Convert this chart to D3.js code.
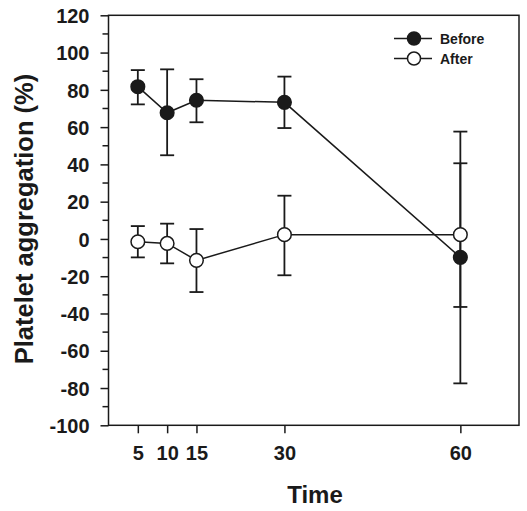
<!DOCTYPE html>
<html><head><meta charset="utf-8">
<script src="https://cdn.jsdelivr.net/npm/d3@7"></script>
<style>body{margin:0;background:#fff}svg{display:block}text{font-family:"Liberation Sans",Arial,sans-serif;font-weight:bold;fill:#1a1a1a}</style>
</head><body>
<script>
const times = [5, 10, 15, 30, 60];
const beforeMean = [81.7, 67.7, 74.4, 73.3, -9.9];
const beforeHi = [90.6, 91.0, 85.7, 87.1, 57.6];
const beforeLo = [72.2, 44.9, 62.6, 59.5, -77.5];
const afterMean = [-1.5, -2.4, -11.5, 2.3, 2.3];
const afterHi = [6.9, 8.2, 5.3, 23.2, 40.6];
const afterLo = [-9.9, -13.1, -28.5, -19.5, -36.5];
const yTicks = [-100, -80, -60, -40, -20, 0, 20, 40, 60, 80, 100, 120];
const seriesNames = ["Before", "After"];

const W = 527, H = 511;
const L = 108.5, R = 519, T = 15.3, B = 425.3;
const ink = "#1a1a1a";
const svg = d3.select("body").append("svg").attr("width", W).attr("height", H);
const x = d3.scaleLinear().domain([0, 70]).range([L, R]);
const y = d3.scaleLinear().domain([-100, 120]).range([B, T]);

// frame
svg.append("rect").attr("x", L).attr("y", T).attr("width", R - L).attr("height", B - T)
  .attr("fill", "none").attr("stroke", ink).attr("stroke-width", 1.5);

// y axis
const yAx = svg.append("g").attr("transform", `translate(${L},0)`)
  .call(d3.axisLeft(y).tickValues(yTicks).tickSize(8).tickPadding(11).tickFormat(d => String(d)));
yAx.select(".domain").remove();
yAx.selectAll("line").attr("stroke", ink).attr("stroke-width", 1.5);
yAx.selectAll("text").style("font-size", "20px").style("font-weight", "bold").attr("fill", ink).attr("dy", "0.36em");
const yMinor = d3.range(-90, 120, 20);
svg.append("g").selectAll("line").data(yMinor).join("line")
  .attr("x1", L - 6).attr("x2", L).attr("y1", d => y(d)).attr("y2", d => y(d))
  .attr("stroke", ink).attr("stroke-width", 1.5);

// x axis
const xAx = svg.append("g").attr("transform", `translate(0,${B})`)
  .call(d3.axisBottom(x).tickValues(times).tickSize(8).tickPadding(13).tickFormat(d => String(d)));
xAx.select(".domain").remove();
xAx.selectAll("line").attr("stroke", ink).attr("stroke-width", 1.5);
xAx.selectAll("text").style("font-size", "20px").style("font-weight", "bold").attr("fill", ink);

// titles
svg.append("text").attr("x", 315).attr("y", 503).attr("text-anchor", "middle")
  .style("font-size", "24px").text("Time");
svg.append("text").attr("transform", `translate(33,219) rotate(-90)`)
  .attr("text-anchor", "middle").style("font-size", "25.5px").text("Platelet aggregation (%)");

const series = [
  {name: seriesNames[0], mean: beforeMean, hi: beforeHi, lo: beforeLo, fill: ink},
  {name: seriesNames[1], mean: afterMean, hi: afterHi, lo: afterLo, fill: "#fff"}
];
const line = d3.line().x(d => x(d[0])).y(d => y(d[1]));
const capW = 7;
series.forEach(s => {
  const g = svg.append("g");
  const pts = times.map((t, i) => [t, s.mean[i], s.hi[i], s.lo[i]]);
  g.selectAll(".eb").data(pts).join("line")
    .attr("x1", d => x(d[0])).attr("x2", d => x(d[0])).attr("y1", d => y(d[2])).attr("y2", d => y(d[3]))
    .attr("stroke", ink).attr("stroke-width", 1.8);
  g.selectAll(".ct").data(pts).join("line")
    .attr("x1", d => x(d[0]) - capW).attr("x2", d => x(d[0]) + capW).attr("y1", d => y(d[2])).attr("y2", d => y(d[2]))
    .attr("stroke", ink).attr("stroke-width", 1.8);
  g.selectAll(".cb").data(pts).join("line")
    .attr("x1", d => x(d[0]) - capW).attr("x2", d => x(d[0]) + capW).attr("y1", d => y(d[3])).attr("y2", d => y(d[3]))
    .attr("stroke", ink).attr("stroke-width", 1.8);
  s.pts = pts; s.g = g;
});
series.forEach(s => {
  s.g.append("path").datum(s.pts).attr("d", line).attr("fill", "none").attr("stroke", ink).attr("stroke-width", 1.5);
});
series.forEach(s => {
  s.g.selectAll("circle").data(s.pts).join("circle")
    .attr("cx", d => x(d[0])).attr("cy", d => y(d[1])).attr("r", 6.8)
    .attr("fill", s.fill).attr("stroke", ink).attr("stroke-width", 1.5);
});

// legend
const leg = svg.append("g");
series.forEach((s, i) => {
  const ly = 38.5 + i * 20;
  leg.append("line").attr("x1", 394).attr("x2", 432).attr("y1", ly).attr("y2", ly).attr("stroke", ink).attr("stroke-width", 1.5);
  leg.append("circle").attr("cx", 414).attr("cy", ly).attr("r", 6.5).attr("fill", s.fill).attr("stroke", ink).attr("stroke-width", 1.5);
  leg.append("text").attr("x", 440).attr("y", ly).attr("dy", "0.36em").style("font-size", "14px").text(s.name);
});
</script>
</body></html>
